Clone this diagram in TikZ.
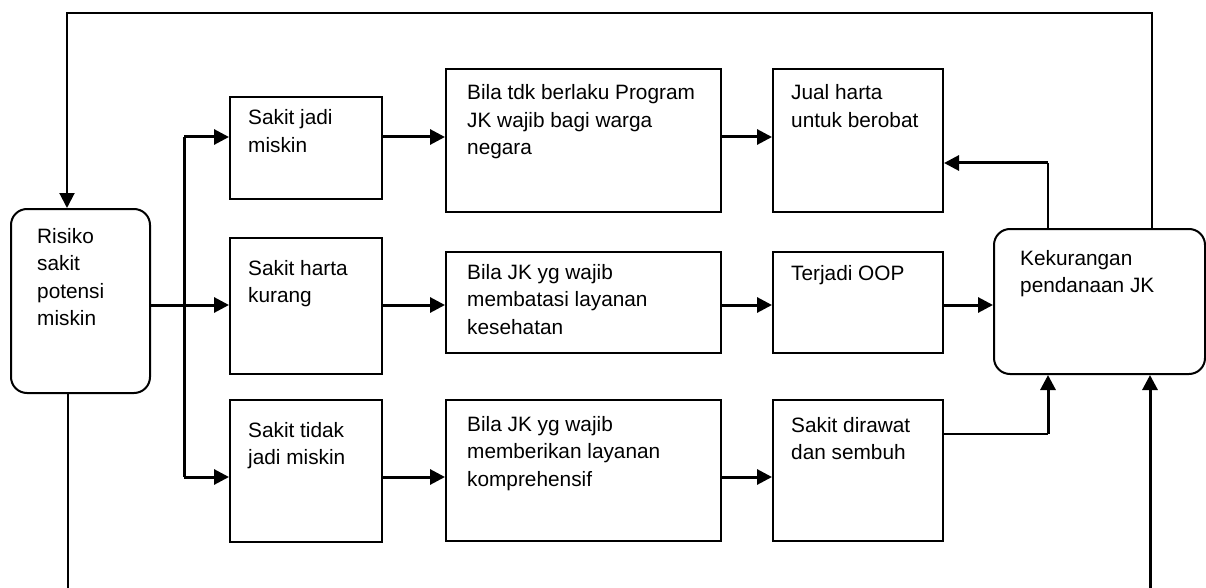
\documentclass[tikz,border=0pt]{standalone}
\usepackage{fontspec}
\setmainfont{Liberation Sans}
\usetikzlibrary{arrows.meta,calc}
\begin{document}
\begin{tikzpicture}[x=1pt,y=-1pt,
  box/.style={draw, line width=2pt, inner sep=0pt, anchor=north west},
  rbox/.style={box, rounded corners=16pt},
  txt/.style={inner sep=0pt, anchor=base west, font=\fontsize{20.8}{27.5}\selectfont},
  tip/.style={-{Triangle[length=15pt,width=15pt]}},
  arr/.style={line width=3pt, tip},
  ln/.style={line width=2pt},
  lnb/.style={line width=3pt}]
\useasboundingbox (0,0) rectangle (1206,588);
% boxes
\node[rbox, minimum width=139pt, minimum height=184pt] (ris) at (10,208) {};
\node[box, minimum width=152pt, minimum height=102pt] (c1r1) at (229,96) {};
\node[box, minimum width=152pt, minimum height=136pt] (c1r2) at (229,237) {};
\node[box, minimum width=152pt, minimum height=142pt] (c1r3) at (229,399) {};
\node[box, minimum width=275pt, minimum height=143pt] (c2r1) at (445,68) {};
\node[box, minimum width=275pt, minimum height=101pt] (c2r2) at (445,251) {};
\node[box, minimum width=275pt, minimum height=141pt] (c2r3) at (445,399) {};
\node[box, minimum width=170pt, minimum height=143pt] (c3r1) at (772,68) {};
\node[box, minimum width=170pt, minimum height=101pt] (c3r2) at (772,251) {};
\node[box, minimum width=170pt, minimum height=141pt] (c3r3) at (772,399) {};
\node[rbox, minimum width=211pt, minimum height=145pt] (kek) at (993,228) {};
% texts
\node[txt] (tris) at (37,243) {\parbox[t]{110pt}{Risiko\\sakit\\potensi\\miskin}};
\node[txt] (t11) at (248,125) {\parbox[t]{130pt}{Sakit jadi\\miskin}};
\node[txt] (t12) at (248,275) {\parbox[t]{130pt}{Sakit harta\\kurang}};
\node[txt] (t13) at (248,437) {\parbox[t]{130pt}{Sakit tidak\\jadi miskin}};
\node[txt] (t21) at (467,100) {\parbox[t]{250pt}{Bila tdk berlaku Program\\JK wajib bagi warga\\negara}};
\node[txt] (t22) at (467,279) {\parbox[t]{250pt}{Bila JK yg wajib\\membatasi layanan\\kesehatan}};
\node[txt] (t23) at (467,431) {\parbox[t]{250pt}{Bila JK yg wajib\\memberikan layanan\\komprehensif}};
\node[txt] (t31) at (791,100) {\parbox[t]{145pt}{Jual harta\\untuk berobat}};
\node[txt] (t32) at (791,280) {\parbox[t]{145pt}{Terjadi OOP}};
\node[txt] (t33) at (791,432) {\parbox[t]{145pt}{Sakit dirawat\\dan sembuh}};
\node[txt] (tkek) at (1020,265) {\parbox[t]{175pt}{Kekurangan\\pendanaan JK}};
% helper coordinates
\coordinate (r1) at (0,137);
\coordinate (r2) at (0,305);
\coordinate (r3) at (0,477);
\coordinate (bx) at (184,0);
\coordinate (jx) at (1048,0);
\coordinate (ox) at (1152,0);
\coordinate (lx) at (67,0);
\coordinate (topy) at (0,13);
\coordinate (upy) at (0,163);
\coordinate (dy) at (0,434);
\coordinate (botL) at (68,588);
\coordinate (botR) at (1150,588);
% branch from Risiko
\draw[arr] (ris.east |- r2) -- (c1r2.west |- r2);
\draw[lnb] (bx |- r1) -- (bx |- r3);
\draw[arr] (bx |- r1) -- (c1r1.west |- r1);
\draw[arr] (bx |- r3) -- (c1r3.west |- r3);
% rows
\draw[arr] (c1r1.east |- r1) -- (c2r1.west |- r1);
\draw[arr] (c2r1.east |- r1) -- (c3r1.west |- r1);
\draw[arr] (c1r2.east |- r2) -- (c2r2.west |- r2);
\draw[arr] (c2r2.east |- r2) -- (c3r2.west |- r2);
\draw[arr] (c3r2.east |- r2) -- (kek.west |- r2);
\draw[arr] (c1r3.east |- r3) -- (c2r3.west |- r3);
\draw[arr] (c2r3.east |- r3) -- (c3r3.west |- r3);
% to / from Kekurangan
\draw[ln] (c3r3.east |- dy) -- (jx |- dy);
\draw[arr] (jx |- dy) -- (jx |- kek.south);
\draw[ln] (jx |- kek.north) -- (jx |- upy);
\draw[arr] (jx |- upy) -- (c3r1.east |- upy);
% outer loops
\draw[ln, tip] (ox |- kek.north) |- (lx |- topy) -- (lx |- ris.north);
\draw[ln] (ris.south -| botL) -- (botL);
\draw[arr] (botR) -- (botR |- kek.south);
\end{tikzpicture}
\end{document}
